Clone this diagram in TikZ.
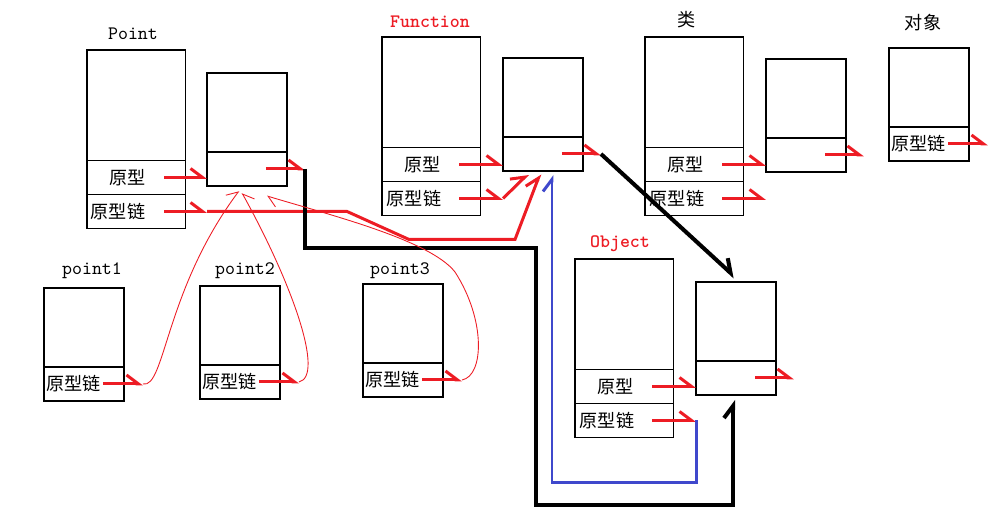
\documentclass[tikz,border=0pt]{standalone}
\usepackage{fontspec}
\newfontfamily\cjk{Noto Sans CJK SC}
\usetikzlibrary{positioning,arrows.meta,calc}
\definecolor{paintred}{RGB}{237,28,36}
\definecolor{paintblue}{RGB}{63,72,204}

\begin{document}
\begin{tikzpicture}[x=0.02cm, y=-0.02cm,
    cell/.style={draw, line width=0.6pt, outer sep=0pt, inner sep=0pt},
    bigbody/.style={cell, minimum width=19.7mm, minimum height=22.1mm, anchor=north west},
    bigrow/.style={cell, minimum width=19.7mm, minimum height=6.8mm},
    smallbody/.style={cell, minimum width=16mm, minimum height=15.8mm, anchor=north west},
    smallrow/.style={cell, minimum width=16mm, minimum height=6.8mm},
    cjktxt/.style={font=\cjk\fontsize{10.3}{12}\selectfont, inner sep=0pt},
    title/.style={font=\ttfamily\fontsize{10.8}{12}\selectfont, inner sep=0pt},
    barb/.style={-{Straight Barb[harpoon,length=2.4mm,width=3.6mm]}},
    redarrow/.style={draw=paintred, line width=1.7pt, barb},
    thinarrow/.style={draw=paintred, line width=0.5pt, -{Straight Barb[harpoon,length=2mm,width=3.2mm]}},
    blackarrow/.style={draw=black, line width=2.3pt, barb},
    bluearrow/.style={draw=paintblue, line width=1.7pt, barb}]
    \useasboundingbox (0,0) rectangle (1000,520);

    %%%%% boxes %%%%%

    % Point
    \node[bigbody] (P) at (87,50) {};
    \node[bigrow, below=0pt of P] (Pr) {};
    \node[bigrow, below=0pt of Pr] (Pc) {};
    \node[cjktxt, right=4.4mm of Pr.west] (Prt) {原型};
    \node[cjktxt, right=0.7mm of Pc.west] (Pct) {原型链};
    \node[title] (Pt) at (133,34) {Point};

    \node[smallbody] (PP) at (207,73) {};
    \node[smallrow, below=0pt of PP] (PPr) {};

    % Function
    \node[bigbody] (F) at (382,37) {};
    \node[bigrow, below=0pt of F] (Fr) {};
    \node[bigrow, below=0pt of Fr] (Fc) {};
    \node[cjktxt, right=4.4mm of Fr.west] (Frt) {原型};
    \node[cjktxt, right=0.9mm of Fc.west] (Fct) {原型链};
    \node[title, text=paintred] (Ft) at (430,22) {\bfseries Function};

    \node[smallbody] (FP) at (503,58) {};
    \node[smallrow, below=0pt of FP] (FPr) {};

    % class
    \node[bigbody] (C) at (645,37) {};
    \node[bigrow, below=0pt of C] (Cr) {};
    \node[bigrow, below=0pt of Cr] (Cc) {};
    \node[cjktxt, right=4.4mm of Cr.west] (Crt) {原型};
    \node[cjktxt, right=0.9mm of Cc.west] (Cct) {原型链};
    \node[cjktxt] (Ct) at (687,20) {类};

    \node[smallbody] (CP) at (766,59) {};
    \node[smallrow, below=0pt of CP] (CPr) {};

    % object instance
    \node[smallbody] (D) at (889,48) {};
    \node[smallrow, below=0pt of D] (Dr) {};
    \node[cjktxt, right=0.4mm of Dr.west] (Drt) {原型链};
    \node[cjktxt] (Dt) at (923,23) {对象};

    % Object
    \node[bigbody] (O) at (575,259) {};
    \node[bigrow, below=0pt of O] (Or) {};
    \node[bigrow, below=0pt of Or] (Oc) {};
    \node[cjktxt, right=4.4mm of Or.west] (Ort) {原型};
    \node[cjktxt, right=0.9mm of Oc.west] (Oct) {原型链};
    \node[title, text=paintred] (Ot) at (620,244) {\bfseries Object};

    \node[smallbody] (OP) at (696,282) {};
    \node[smallrow, below=0pt of OP] (OPr) {};

    % point1..3
    \node[smallbody] (I1) at (44,288) {};
    \node[smallrow, below=0pt of I1] (I1c) {};
    \node[cjktxt, right=0.4mm of I1c.west] (I1ct) {原型链};
    \node[title] (I1t) at (92,271) {point1};

    \node[smallbody] (I2) at (200,286) {};
    \node[smallrow, below=0pt of I2] (I2c) {};
    \node[cjktxt, right=0.4mm of I2c.west] (I2ct) {原型链};
    \node[title] (I2t) at (245,271) {point2};

    \node[smallbody] (I3) at (363,284) {};
    \node[smallrow, below=0pt of I3] (I3c) {};
    \node[cjktxt, right=0.4mm of I3c.west] (I3ct) {原型链};
    \node[title] (I3t) at (400,271) {point3};

    %%%%% links %%%%%

    % Point
    \draw[redarrow] ([xshift=-4.2mm]Pr.east) -- (Pr.east -| PP.west);
    \draw[redarrow] ([xshift=-4.2mm]Pc.east) -- (Pc.east -| PP.west) coordinate (Pce);
    \draw[redarrow] (Pce) -- ($(Pce)+(140,0)$) -- ++(62,28) -- ++(106,0) -- ($(FPr.south)+(-3,3)$);
    \draw[redarrow] ([xshift=-4.2mm]PPr.east) -- ([xshift=3.6mm]PPr.east) coordinate (PPe);
    \draw[blackarrow] (PPe) -- ++(0,79) -- ++(231,0) -- ++(0,257) -| ($(OPr.south)+(-3,5)$);

    % Function
    \draw[redarrow] ([xshift=-4.2mm]Fr.east) -- (Fr.east -| FP.west);
    \draw[redarrow] ([xshift=-4.2mm]Fc.east) -- (Fc.east -| FP.west) coordinate (Fce);
    \draw[redarrow] (Fce) -- ($(FPr.south)+(-15,3)$);
    \draw[redarrow] ([xshift=-4.2mm]FPr.east) -- ([xshift=3.6mm]FPr.east) coordinate (FPe);
    \draw[blackarrow] (FPe) -- ($(OP.north)+(-1,-5)$);

    % class, object instance
    \draw[redarrow] ([xshift=-4.2mm]Cr.east) -- (Cr.east -| CP.west);
    \draw[redarrow] ([xshift=-4.2mm]Cc.east) -- (Cc.east -| CP.west);
    \draw[redarrow] ([xshift=-4.2mm]CPr.east) -- ([xshift=3.6mm]CPr.east);
    \draw[redarrow] ([xshift=-4.2mm]Dr.east) -- ([xshift=3.8mm]Dr.east);

    % Object
    \draw[redarrow] ([xshift=-4.2mm]Or.east) -- (Or.east -| OP.west);
    \draw[redarrow] ([xshift=-4.2mm]Oc.east) -- (Oc.east -| OP.west) coordinate (Oce);
    \draw[bluearrow] (Oce) -- ++(0,62) -| ($(FPr.south)+(9,4)$);
    \draw[redarrow] ([xshift=-4.2mm]OPr.east) -- ([xshift=3.6mm]OPr.east);

    % point1..3
    \draw[redarrow] ([xshift=-4.2mm]I1c.east) -- ([xshift=3.8mm]I1c.east) coordinate (I1e);
    \draw[thinarrow] (I1e) .. controls +(22,5) and +(-74,99) .. ($(PPr.south)+(-8,5)$);
    \draw[redarrow] ([xshift=-4.2mm]I2c.east) -- ([xshift=3.8mm]I2c.east) coordinate (I2e);
    \draw[thinarrow, -{Straight Barb[harpoon,swap,length=2mm,width=3.2mm]}] (I2e) .. controls +(26,-6) and +(50,90) .. ($(PPr.south)+(-5,7)$);
    \draw[redarrow] ([xshift=-4.2mm]I3c.east) -- ([xshift=3.8mm]I3c.east) coordinate (I3e);
    \draw[thinarrow] (I3e) .. controls +(22,-4) and +(31,48) .. (455,272)
        .. controls +(-25,-32) and +(63,19) .. ($(PPr.south)+(20,10)$);
\end{tikzpicture}
\end{document}
